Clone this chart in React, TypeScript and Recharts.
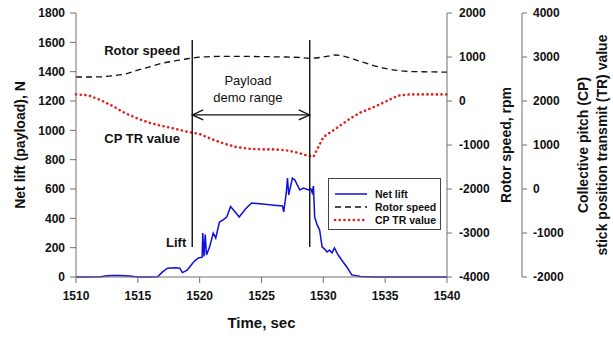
import { LineChart, Line, XAxis, YAxis, ReferenceLine, ReferenceDot, Legend } from "recharts";

// rotor speed, sampled once a second
const seconds = [1510, 1511, 1512, 1513, 1514, 1515, 1516, 1517, 1518, 1519, 1520, 1521, 1522, 1523, 1524, 1525, 1526, 1527, 1528, 1529, 1530, 1531, 1532, 1533, 1534, 1535, 1536, 1537, 1538, 1539, 1540];
const rotorRpm = [545, 545, 550, 575, 615, 700, 780, 860, 910, 960, 995, 1010, 1015, 1015, 1012, 1010, 1005, 1000, 990, 970, 1000, 1045, 990, 900, 810, 740, 695, 668, 665, 660, 655];

// collective pitch transmit value
const cpTime = [1510, 1511, 1512, 1513, 1514, 1515, 1516, 1517, 1518, 1519, 1520, 1521, 1522, 1523, 1524, 1525, 1526, 1527, 1528, 1528.7, 1529.2, 1530, 1531, 1532, 1533, 1534, 1535, 1536, 1537, 1538, 1539, 1540];
const cpValue = [2150, 2130, 2020, 1880, 1720, 1600, 1500, 1430, 1370, 1300, 1250, 1130, 1030, 950, 915, 900, 900, 880, 820, 760, 730, 1180, 1370, 1570, 1740, 1850, 1980, 2120, 2150, 2150, 2150, 2150];

// net lift, N
const liftTime = [1510, 1511, 1512, 1512.5, 1513, 1513.5, 1514, 1514.5, 1515, 1516, 1516.6, 1517, 1517.4, 1518, 1518.4, 1518.6, 1518.8, 1519, 1519.3, 1519.6, 1519.9, 1520.2, 1520.25, 1520.35, 1520.45, 1520.55, 1520.8, 1521.1, 1521.3, 1521.6, 1521.9, 1522.2, 1522.5, 1522.7, 1523.2, 1523.7, 1524.2, 1525.1, 1526, 1526.7, 1526.8, 1527, 1527.1, 1527.2, 1527.5, 1527.7, 1528.1, 1528.4, 1528.8, 1529, 1529.1, 1529.2, 1529.3, 1529.5, 1529.7, 1529.9, 1530.1, 1530.3, 1530.5, 1530.7, 1530.9, 1531.2, 1531.6, 1531.9, 1532.3, 1533, 1534, 1540];
const liftN = [0, 0, 2, 8, 10, 10, 8, 5, 0, 0, 2, 35, 60, 63, 60, 30, 38, 48, 80, 110, 130, 135, 300, 140, 290, 150, 205, 300, 266, 375, 390, 410, 480, 460, 409, 463, 505, 497, 490, 484, 443, 573, 675, 560, 675, 661, 593, 607, 593, 600, 575, 620, 409, 355, 320, 205, 190, 170, 184, 164, 198, 150, 102, 68, 14, 3, 0, 0];

const xTicks = [1510, 1515, 1520, 1525, 1530, 1535, 1540];
const liftTicks = [0, 200, 400, 600, 800, 1000, 1200, 1400, 1600, 1800];
const rpmTicks = [-4000, -3000, -2000, -1000, 0, 1000, 2000];
const cpTicks = [-2000, -1000, 0, 1000, 2000, 3000, 4000];

// demo range markers
const demoStart = 1519.4;
const demoEnd = 1528.9;

const rpmRows = seconds.map((t, i) => ({ t, rpm: rotorRpm[i] }));
const cpRows = cpTime.map((t, i) => ({ t, cp: cpValue[i] }));
const liftRows = liftTime.map((t, i) => ({ t, lift: liftN[i] }));

const axisColor = "#707070";
const tickStyle = { fill: "#111", fontSize: 12, fontWeight: 700 };
const titleStyle = { fill: "#111", fontSize: 14, fontWeight: 700 };
const noteStyle = { fill: "#111", fontSize: 13, fontWeight: 700 };

function Arrow(props: any) {
  const { x1, x2, y1 } = props;
  const h = 11;
  const w = 5;
  return (
    <g stroke="#111" strokeWidth={1.3} fill="none">
      <line x1={x1} y1={y1} x2={x2} y2={y1} />
      <polyline points={`${x1 + h},${y1 - w} ${x1},${y1} ${x1 + h},${y1 + w}`} />
      <polyline points={`${x2 - h},${y1 - w} ${x2},${y1} ${x2 - h},${y1 + w}`} />
    </g>
  );
}

function CpTitle(props: any) {
  const { viewBox } = props;
  const cy = viewBox.y + viewBox.height / 2;
  const xa = viewBox.x + 61;
  const xb = viewBox.x + 80;
  return (
    <g fill="#111" fontSize={14} fontWeight={700}>
      <text x={xa} y={cy} textAnchor="middle" dominantBaseline="central" transform={`rotate(-90, ${xa}, ${cy})`}>
        Collective pitch (CP)
      </text>
      <text x={xb} y={cy} textAnchor="middle" dominantBaseline="central" transform={`rotate(-90, ${xb}, ${cy})`}>
        stick position transmit (TR) value
      </text>
    </g>
  );
}

function LegendBox() {
  const rows = [
    { name: "Net lift", color: "#1010d8", dash: undefined, width: 1.5, cap: "butt" },
    { name: "Rotor speed", color: "#111", dash: "6 4", width: 1.3, cap: "butt" },
    { name: "CP TR value", color: "#e3201c", dash: "0.1 4.6", width: 2.6, cap: "round" },
  ];
  return (
    <div style={{ width: 113, height: 52, border: "1px solid #444", background: "#fff", boxSizing: "border-box" }}>
      <svg width={111} height={50}>
        {rows.map((r, i) => (
          <g key={r.name}>
            <line x1={6} x2={38} y1={15 + i * 13} y2={15 + i * 13} stroke={r.color} strokeWidth={r.width} strokeDasharray={r.dash} strokeLinecap={r.cap as any} />
            <text x={46} y={15 + i * 13} dominantBaseline="central" fontSize={10.5} fontWeight={700} fill="#111">
              {r.name}
            </text>
          </g>
        ))}
      </svg>
    </div>
  );
}

export default function App() {
  return (
    <div style={{ position: "absolute", left: 0, top: 0, fontFamily: "'Liberation Sans', Arial, sans-serif", background: "#fff" }}>
      <LineChart width={613} height={337} margin={{ top: 13, right: 0, bottom: 0, left: 0 }}>
        <XAxis
          dataKey="t"
          type="number"
          domain={[1510, 1540]}
          ticks={xTicks}
          allowDuplicatedCategory={false}
          height={60}
          stroke={axisColor}
          tick={tickStyle}
          tickSize={6}
          tickMargin={8}
          label={{ value: "Time, sec", position: "center", dy: 16, ...titleStyle, fontSize: 15 }}
        />
        <YAxis
          yAxisId="lift"
          orientation="left"
          width={76}
          domain={[0, 1800]}
          ticks={liftTicks}
          stroke={axisColor}
          tick={tickStyle}
          tickSize={6}
          tickMargin={5}
          label={{ value: "Net lift (payload), N", angle: -90, position: "center", dx: -18, ...titleStyle }}
        />
        <YAxis
          yAxisId="r2"
          orientation="right"
          width={91}
          domain={[-2000, 4000]}
          ticks={cpTicks}
          stroke={axisColor}
          tick={tickStyle}
          tickSize={5}
          tickMargin={6}
          label={<CpTitle />}
        />
        <YAxis
          yAxisId="r1"
          orientation="right"
          width={75}
          domain={[-4000, 2000]}
          ticks={rpmTicks}
          stroke={axisColor}
          tick={tickStyle}
          tickSize={5}
          tickMargin={7}
          label={{ value: "Rotor speed, rpm", angle: -90, position: "center", dx: 22, ...titleStyle }}
        />
        <Legend
          layout="horizontal"
          verticalAlign="middle"
          align="center"
          content={<LegendBox />}
          wrapperStyle={{ left: 328, top: 178, width: 113, height: 52 }}
        />
        <Line yAxisId="lift" data={liftRows} dataKey="lift" name="Net lift" type="linear" stroke="#1010d8" strokeWidth={1.5} dot={false} isAnimationActive={false} />
        <Line yAxisId="r1" data={rpmRows} dataKey="rpm" name="Rotor speed" type="monotone" stroke="#111" strokeWidth={1.3} strokeDasharray="6 4" dot={false} isAnimationActive={false} />
        <Line yAxisId="r2" data={cpRows} dataKey="cp" name="CP TR value" type="linear" stroke="#e3201c" strokeWidth={2.6} strokeDasharray="0.1 4.6" strokeLinecap="round" dot={false} isAnimationActive={false} />
        <ReferenceLine yAxisId="lift" segment={[{ x: demoStart, y: 205 }, { x: demoStart, y: 1616 }]} stroke="#111" strokeWidth={1.4} />
        <ReferenceLine yAxisId="lift" segment={[{ x: demoEnd, y: 205 }, { x: demoEnd, y: 1616 }]} stroke="#111" strokeWidth={1.4} />
        <ReferenceLine yAxisId="lift" segment={[{ x: demoStart, y: 1105 }, { x: demoEnd, y: 1105 }]} shape={<Arrow />} />
        <ReferenceDot yAxisId="lift" x={1515.35} y={1548} r={0} stroke="none" label={{ value: "Rotor speed", position: "center", ...noteStyle }} />
        <ReferenceDot yAxisId="lift" x={1515.35} y={948} r={0} stroke="none" label={{ value: "CP TR value", position: "center", ...noteStyle }} />
        <ReferenceDot yAxisId="lift" x={1518.1} y={239} r={0} stroke="none" label={{ value: "Lift", position: "center", ...noteStyle }} />
        <ReferenceDot yAxisId="lift" x={1523.9} y={1343} r={0} stroke="none" label={{ value: "Payload", position: "center", fill: "#111", fontSize: 13 }} />
        <ReferenceDot yAxisId="lift" x={1523.9} y={1227} r={0} stroke="none" label={{ value: "demo  range", position: "center", fill: "#111", fontSize: 13 }} />
      </LineChart>
    </div>
  );
}
